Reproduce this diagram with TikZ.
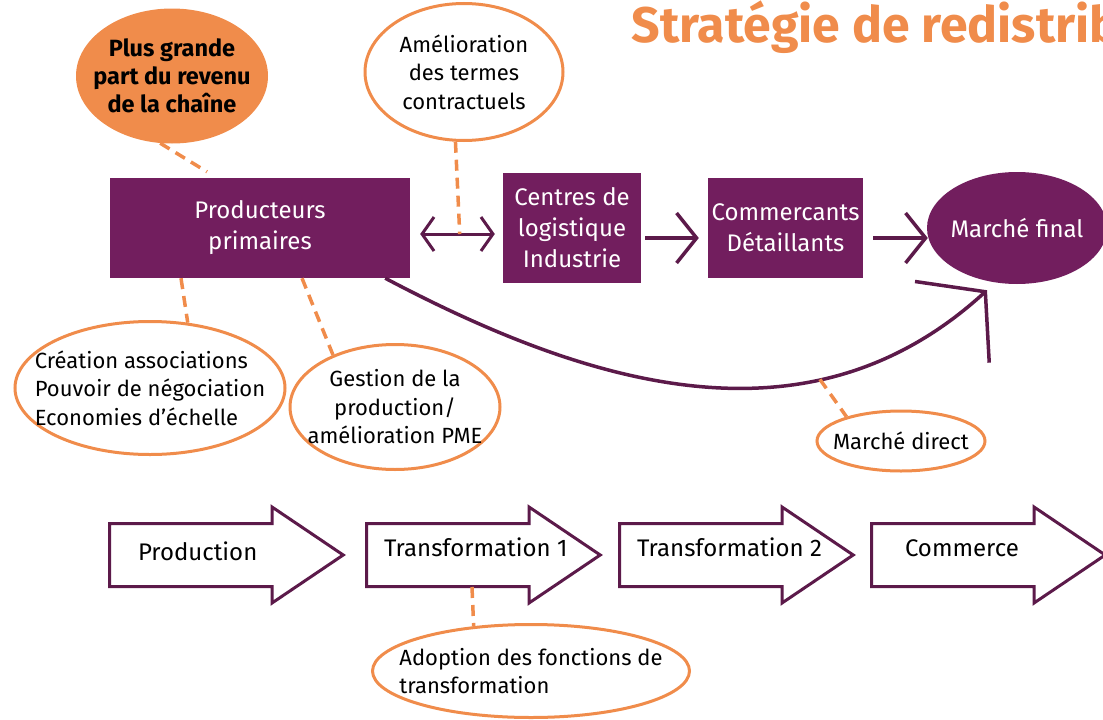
\documentclass[tikz,border=0pt]{standalone}
\usepackage{fontspec}
\setmainfont{Fira Sans}
\usetikzlibrary{shapes.geometric,shapes.arrows,arrows.meta,positioning}

\definecolor{plum}{HTML}{721E5E}
\definecolor{wine}{HTML}{5C1A4A}
\definecolor{tang}{HTML}{F08C4B}

\tikzstyle{title} = [text=tang, font=\fontsize{50}{58}\selectfont\bfseries]
\tikzstyle{block} = [rectangle, fill=plum, text=white, align=center, font=\fontsize{24}{31}\selectfont]
\tikzstyle{market} = [ellipse, fill=plum, text=white, inner sep=-30pt, minimum width=180pt, minimum height=112pt, font=\fontsize{24}{31}\selectfont]
\tikzstyle{goal} = [ellipse, fill=tang, align=center, inner sep=-40pt, font=\fontsize{23.5}{28}\selectfont\bfseries]
\tikzstyle{note} = [ellipse, draw=tang, line width=3pt, fill=white, align=center, inner sep=-40pt, font=\fontsize{22}{28.5}\selectfont]
\tikzstyle{stage} = [single arrow, draw=wine, line width=3pt, fill=white, single arrow head extend=16.5pt, single arrow tip angle=68, inner xsep=16pt, inner ysep=21pt, text height=14pt, text depth=4pt, font=\fontsize{24}{28}\selectfont]
\tikzstyle{link} = [draw=tang, line width=3.5pt, dash pattern=on 11pt off 7pt]
\tikzstyle{flow} = [draw=wine, line width=3.5pt, -{Straight Barb[length=20pt,width=50pt]}]
\tikzstyle{swap} = [draw=wine, line width=3pt, {Straight Barb[length=12pt,width=34pt]}-{Straight Barb[length=12pt,width=34pt]}]
\tikzstyle{direct} = [draw=wine, line width=3.5pt, -{Straight Barb[length=45pt,width=110pt]}]

\begin{document}
\begin{tikzpicture}[x=1pt, y=-1pt]
  \def\sep{253pt}
  \def\tw{152pt}

  \useasboundingbox (0,0) rectangle (1103,720);
  \clip (0,0) rectangle (1103,720);

  \node[title, anchor=base west] (title) at (628,42) {Stratégie de redistribution};

  % chaine du haut
  \node[block, minimum width=300pt, minimum height=100pt] (prod) at (260,228) {Producteurs\\primaires};
  \node[block, minimum width=138pt, minimum height=110pt, right of=prod, node distance=312pt] (log) {Centres de\\logistique\\Industrie};
  \node[block, minimum width=155pt, minimum height=100pt, right of=log, node distance=213.5pt] (com) {Commercants\\Détaillants};
  \node[market, right of=com, node distance=231.5pt] (mf) {Marché final};

  % bulles
  \node[goal, minimum width=192pt, minimum height=135pt] (goal) at (172,76) {Plus grande\\part du revenu\\de la chaîne};
  \node[note, minimum width=198pt, minimum height=137pt] (terms) at (464,72) {Amélioration\\des termes\\contractuels};
  \node[note, align=left, minimum width=270pt, minimum height=133pt] (assoc) at (150,388) {Création associations\\Pouvoir de négociation\\Economies d’échelle};
  \node[note, minimum width=210pt, minimum height=125pt] (pme) at (395,407) {Gestion de la\\production/\\amélioration PME};
  \node[note, minimum width=168pt, minimum height=60pt] (direct_n) at (901,441) {Marché direct};

  % etapes
  \node[stage] (st_prod) at (203,555) {\makebox[\tw][l]{\hspace*{11pt}Production}};
  \node[stage, right of=st_prod, node distance=257pt] (st_tr1) {\makebox[\tw][l]{\raisebox{4pt}{Transformation 1}}};
  \node[stage, right of=st_tr1, node distance=\sep] (st_tr2) {\makebox[\tw][l]{\raisebox{4pt}{Transformation 2}}};
  \node[stage, right of=st_tr2, node distance=252pt] (st_com) {\makebox[\tw][l]{\hspace*{16pt}\raisebox{4pt}{Commerce}}};
  \node[note, align=left, minimum width=317pt, minimum height=93pt] (adopt) at (531,671) {Adoption des fonctions de\\transformation};

  \draw[swap] ([xshift=10pt,yshift=-6pt]prod.east) -- coordinate[pos=0.53] (swap_mid) ([xshift=-8pt,yshift=-6pt]log.west);
  \draw[flow] ([xshift=4pt,yshift=-10pt]log.east) -- ([xshift=-9pt,yshift=-10pt]com.west);
  \draw[flow] ([xshift=10pt,yshift=-10pt]com.east) -- ([xshift=1pt,yshift=-10pt]mf.west);
  \draw[direct] ([xshift=-25pt]prod.south east) .. controls +(212,112) and +(-175,160) .. coordinate[pos=0.7] (direct_p) ([xshift=-30pt,yshift=-6pt]mf.south);

  \draw[link] (goal.-100) -- ([xshift=-53pt,yshift=6pt]prod.north);
  \draw[link] (terms.-97) -- (swap_mid);
  \draw[link] ([xshift=-79pt]prod.south) -- (assoc.60);
  \draw[link] ([xshift=42pt]prod.south) -- (pme.140);
  \draw[link] (direct_p) -- (direct_n.156);
  \draw[link] ([xshift=12pt,yshift=-32pt]st_tr1.center) -- (adopt.142);

\end{tikzpicture}
\end{document}
